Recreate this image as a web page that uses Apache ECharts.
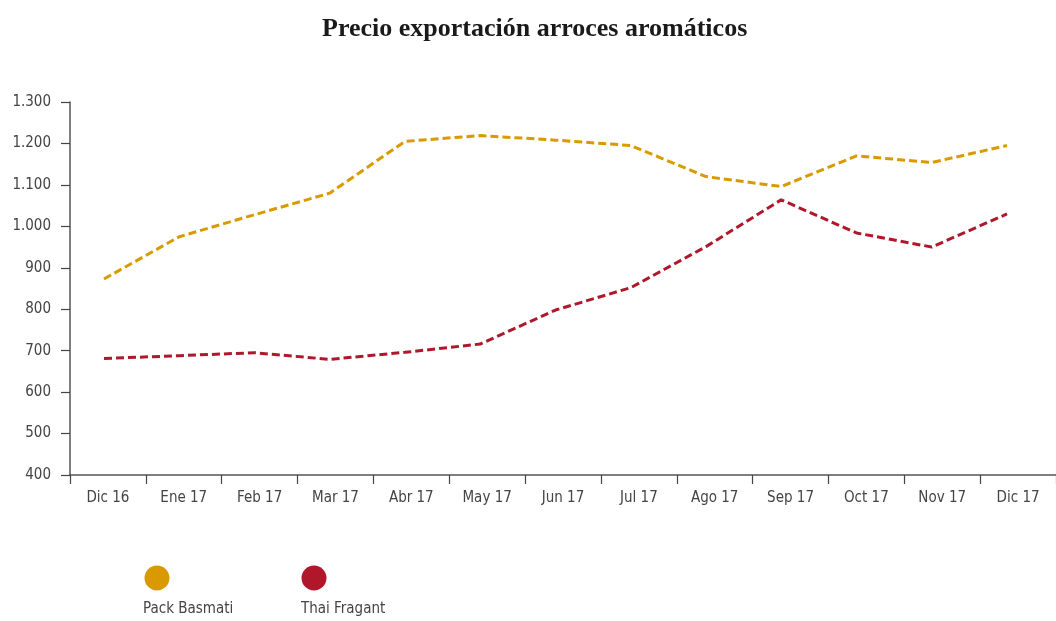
<!DOCTYPE html>
<html>
<head>
<meta charset="utf-8">
<script src="https://cdn.jsdelivr.net/npm/echarts@6/dist/echarts.min.js"></script>
<style>html,body{margin:0;padding:0;background:#fff;}#c{width:1056px;height:621px;}</style>
</head>
<body>
<div id="c"></div>
<script>
const categories = ['Dic 16','Ene 17','Feb 17','Mar 17','Abr 17','May 17','Jun 17','Jul 17','Ago 17','Sep 17','Oct 17','Nov 17','Dic 17'];
const packBasmati = [873, 975, 1028, 1080, 1205, 1219, 1208, 1195, 1120, 1096, 1170, 1154, 1195];
const thaiFragant = [681, 688, 695, 679, 696, 716, 798, 852, 951, 1064, 984, 950, 1030];
const yTicks = { min: 400, max: 1300, interval: 100 };
const seriesNames = ['Pack Basmati', 'Thai Fragant'];
const colors = ['#D89A00', '#B0172B'];

const FONT = '"DejaVu Sans Condensed", "Liberation Sans Narrow", sans-serif';
function fmt(v) {
  const s = String(Math.round(v));
  return s.length > 3 ? s.slice(0, s.length - 3) + '.' + s.slice(-3) : s;
}

const chart = echarts.init(document.getElementById('c'), null, { renderer: 'canvas' });
chart.setOption({
  backgroundColor: '#fff',
  animation: false,
  title: {
    text: 'Precio exportación arroces aromáticos',
    left: 317, top: 11,
    textStyle: { fontFamily: '"Liberation Serif", "DejaVu Serif", serif', fontWeight: 'bold', fontSize: 26, color: '#1a1a1a' }
  },
  grid: [
    { left: 70, right: -2, top: 102, height: 373, containLabel: false },
    { left: 104, right: 49, top: 102, height: 373, containLabel: false }
  ],
  xAxis: [
    {
      type: 'category', gridIndex: 0, data: categories, boundaryGap: true,
      axisLine: { lineStyle: { color: '#555', width: 1.5 } },
      axisTick: { show: true, length: 9, lineStyle: { color: '#444', width: 1.2 } },
      axisLabel: { color: '#444', fontSize: 15, fontFamily: FONT, margin: 16 },
      splitLine: { show: false }
    },
    {
      type: 'category', gridIndex: 1, data: categories, boundaryGap: false, show: false
    }
  ],
  yAxis: [
    {
      type: 'value', gridIndex: 0, min: yTicks.min, max: yTicks.max, interval: yTicks.interval,
      axisLine: { show: true, lineStyle: { color: '#555', width: 1.5 } },
      axisTick: { show: true, length: 9, lineStyle: { color: '#444', width: 1.2 } },
      axisLabel: { color: '#444', fontSize: 15, fontFamily: FONT, margin: 19, formatter: fmt },
      splitLine: { show: false }
    },
    {
      type: 'value', gridIndex: 1, min: yTicks.min, max: yTicks.max, interval: yTicks.interval, show: false,
      splitLine: { show: false }
    }
  ],
  series: [
    {
      name: seriesNames[0], type: 'line', xAxisIndex: 1, yAxisIndex: 1, data: packBasmati,
      symbol: 'none', lineStyle: { color: colors[0], width: 3, type: [8, 4] }, itemStyle: { color: colors[0] }
    },
    {
      name: seriesNames[1], type: 'line', xAxisIndex: 1, yAxisIndex: 1, data: thaiFragant,
      symbol: 'none', lineStyle: { color: colors[1], width: 3, type: [8, 4] }, itemStyle: { color: colors[1] }
    }
  ],
  graphic: [
    { type: 'circle', shape: { cx: 157, cy: 578, r: 12.5 }, style: { fill: colors[0] } },
    { type: 'text', left: 143, top: 602, style: { text: seriesNames[0], fill: '#444', font: '15px ' + FONT } },
    { type: 'circle', shape: { cx: 314, cy: 578, r: 12.5 }, style: { fill: colors[1] } },
    { type: 'text', left: 301, top: 602, style: { text: seriesNames[1], fill: '#444', font: '15px ' + FONT } }
  ]
});
</script>
</body>
</html>
